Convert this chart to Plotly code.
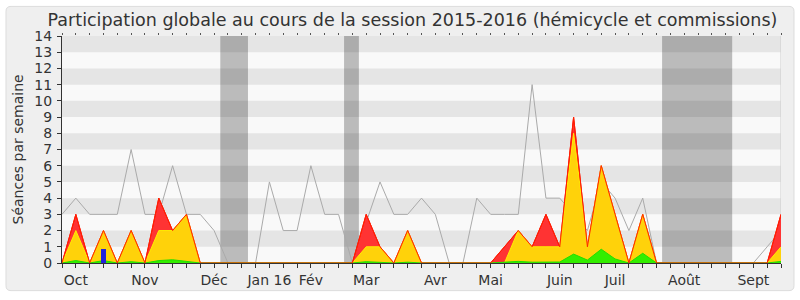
import plotly.graph_objects as go

# ---- data (weekly, 53 weeks from late Sept 2015 to Sept 2016) ----
weeks = list(range(53))
median_line = [3, 4, 3, 3, 3, 7, 3, 3, 6, 3, 3, 2, 0, 0, 0, 5, 2, 2, 6, 3,
               3, 0, 2.5, 5, 3, 3, 4, 3, 0, 0, 4, 3, 3, 3, 11, 4, 4, 3, 2, 5,
               4, 2, 4, 0, 0, 0, 0, 0, 0, 0, 0, 1, 2]
total = [0, 3, 0, 2, 0, 2, 0, 4, 2, 3, 0, 0, 0, 0, 0, 0, 0, 0, 0, 0,
         0, 0, 3, 1, 0, 2, 0, 0, 0, 0, 0, 0, 1, 2, 1, 3, 1, 9, 1, 6,
         3, 0, 3, 0, 0, 0, 0, 0, 0, 0, 0, 0, 3]
hemicycle = [0, 2, 0, 2, 0, 2, 0, 2, 2, 3, 0, 0, 0, 0, 0, 0, 0, 0, 0, 0,
             0, 0, 1, 1, 0, 2, 0, 0, 0, 0, 0, 0, 0, 2, 1, 1, 1, 8, 1, 6,
             3, 0, 3, 0, 0, 0, 0, 0, 0, 0, 0, 0, 1]
interventions = [0, 0.15, 0, 0.15, 0, 0.08, 0, 0.15, 0.2, 0.12, 0, 0, 0, 0, 0, 0, 0, 0, 0, 0,
                 0, 0, 0.08, 0.05, 0, 0.05, 0, 0, 0, 0, 0, 0, 0.05, 0.1, 0.05, 0.05, 0.06, 0.55, 0.18, 0.85,
                 0.25, 0, 0.6, 0, 0, 0, 0, 0, 0, 0, 0, 0, 0.1]
questions_weeks = [3]
questions_values = [0.87]

month_weeks = [1, 6, 11, 15, 18, 22, 27, 31, 36, 40, 45, 50]
month_labels = ["Oct", "Nov", "Déc", "Jan 16", "Fév", "Mar", "Avr", "Mai",
                "Juin", "Juil", "Août", "Sept"]
vac_start = [11.45, 20.4, 43.4]
vac_end = [13.45, 21.47, 48.47]
y_ticks = list(range(0, 15))

FONT = "DejaVu Sans"
TXT = "#333333"

fig = go.Figure()

fig.add_trace(go.Scatter(x=weeks, y=median_line, mode="lines",
                         line=dict(color="#aaaaaa", width=1), hoverinfo="skip"))
fig.add_trace(go.Scatter(x=weeks, y=total, mode="lines", fill="tozeroy",
                         fillcolor="#ff3333", line=dict(color="#ff0000", width=1)))
fig.add_trace(go.Scatter(x=weeks, y=hemicycle, mode="lines", fill="tozeroy",
                         fillcolor="#ffd20a", line=dict(color="#ffee00", width=1)))
fig.add_trace(go.Scatter(x=weeks, y=interventions, mode="lines", fill="tozeroy",
                         fillcolor="#33ee00", line=dict(color="#22dd00", width=1)))
fig.add_trace(go.Scatter(x=weeks, y=total, mode="lines",
                         line=dict(color="#ff2200", width=1)))
fig.add_trace(go.Bar(x=questions_weeks, y=questions_values, width=0.36,
                     marker=dict(color="#2222dd", line=dict(width=0)),
                     xaxis="x2", yaxis="y"))

shapes = []
# outer panel
r = 5
x0p, x1p, y0p, y1p = 6, 794, 6, 294
def px2pap(px, py):
    return (px - 62) / 719.0, (266 - py) / 230.0
def pt(px, py):
    a, b = px2pap(px, py)
    return f"{a:.5f},{b:.5f}"
path = (f"M {pt(x0p + r, y0p)} L {pt(x1p - r, y0p)} Q {pt(x1p, y0p)} {pt(x1p, y0p + r)} "
        f"L {pt(x1p, y1p - r)} Q {pt(x1p, y1p)} {pt(x1p - r, y1p)} "
        f"L {pt(x0p + r, y1p)} Q {pt(x0p, y1p)} {pt(x0p, y1p - r)} "
        f"L {pt(x0p, y0p + r)} Q {pt(x0p, y0p)} {pt(x0p + r, y0p)} Z")
shapes.append(dict(type="path", path=path, xref="paper", yref="paper",
                   fillcolor="#efefef", line=dict(color="#dcdcdc", width=1), layer="below"))
shapes.append(dict(type="rect", xref="paper", yref="paper", x0=0, x1=1, y0=0, y1=1,
                   fillcolor="#f9f9f9", line=dict(width=0), layer="below"))
for s, e in zip(vac_start, vac_end):
    shapes.append(dict(type="rect", xref="x", yref="y", x0=s, x1=e, y0=0, y1=14,
                       fillcolor="#bbbbbb", line=dict(width=0), layer="below"))
for k in range(1, 14, 2):
    shapes.append(dict(type="rect", xref="x", yref="y", x0=0, x1=52, y0=k, y1=k + 1,
                       fillcolor="rgba(0,0,0,0.08)", line=dict(width=0), layer="below"))
shapes.append(dict(type="line", xref="x", yref="y", x0=52, x1=52, y0=0, y1=14,
                   line=dict(color="#cccccc", width=1), layer="below"))

ticktext = []
for w in weeks:
    ticktext.append(month_labels[month_weeks.index(w)] if w in month_weeks else "")

fig.update_layout(
    width=800, height=300,
    margin=dict(l=62, r=19, t=36, b=34),
    paper_bgcolor="white",
    plot_bgcolor="rgba(0,0,0,0)",
    showlegend=False,
    shapes=shapes,
    font=dict(family=FONT, color=TXT),
    title=dict(text="Participation globale au cours de la session 2015-2016 (hémicycle et commissions)",
               x=0.5156, xref="container", xanchor="center",
               y=1 - 20 / 300, yref="container", yanchor="middle",
               font=dict(family=FONT, size=17.5, color=TXT)),
    xaxis=dict(range=[0, 52], tickvals=weeks, ticktext=ticktext, showgrid=False,
               zeroline=False, showline=True, linecolor="#333333", linewidth=1,
               ticks="outside", ticklen=4, tickcolor="#333333",
               tickfont=dict(family=FONT, size=14, color=TXT), fixedrange=True),
    xaxis2=dict(range=[0, 52], overlaying="x", side="top", tickvals=weeks,
                showticklabels=False, showgrid=False, zeroline=False, showline=False,
                ticks="outside", ticklen=2, tickcolor="#555555", anchor="y"),
    yaxis=dict(range=[0, 14], tickvals=y_ticks, showgrid=False, zeroline=False,
               showline=True, linecolor="#333333", linewidth=1,
               ticks="outside", ticklen=4, tickcolor="#333333", ticklabelstandoff=2,
               tickfont=dict(family=FONT, size=14, color=TXT), fixedrange=True),
    annotations=[dict(text="Séances par semaine", xref="paper", yref="paper",
                      x=(17 - 62) / 719.0, y=0.5, xanchor="center", yanchor="middle",
                      textangle=-90, showarrow=False,
                      font=dict(family=FONT, size=14, color=TXT))],
    bargap=0,
)

fig.write_html("out.html")
